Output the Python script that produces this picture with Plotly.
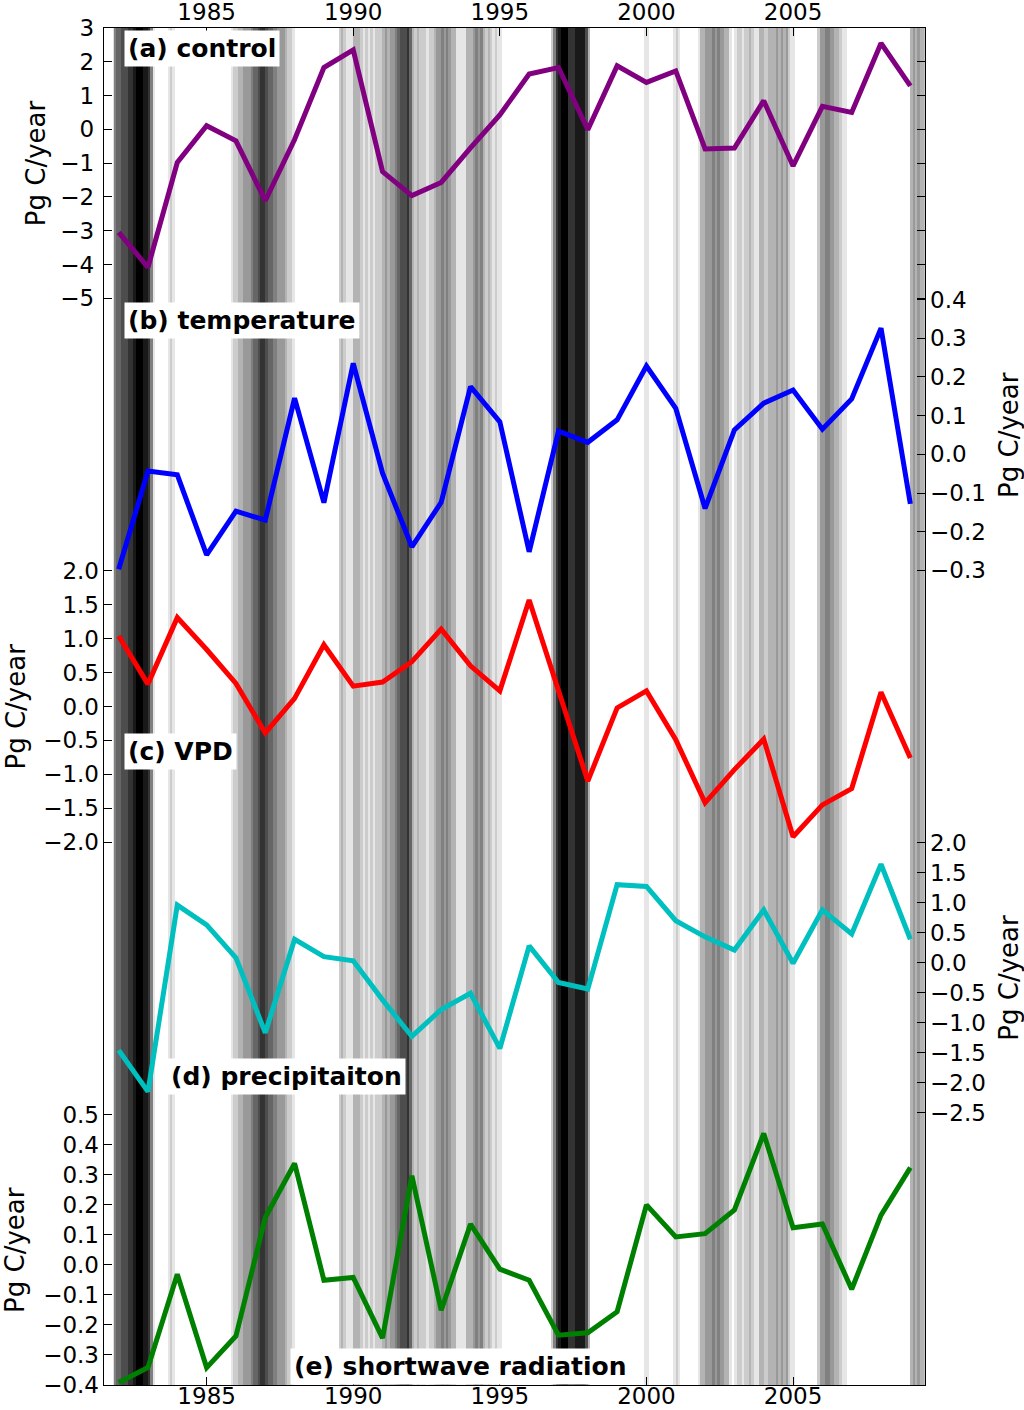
import numpy as np
import plotly.graph_objects as go

# ---------------- data ----------------
years = list(range(1982, 2010))

control = [-3.05, -4.08, -0.98, 0.11, -0.34, -2.11, -0.30, 1.83, 2.35, -1.25,
           -1.96, -1.57, -0.55, 0.43, 1.64, 1.83, -0.01, 1.88, 1.39, 1.73,
           -0.58, -0.55, 0.85, -1.08, 0.68, 0.50, 2.55, 1.29]

temperature = [-0.297, -0.043, -0.053, -0.260, -0.147, -0.170, 0.145, -0.125, 0.235, -0.049,
               -0.239, -0.124, 0.175, 0.084, -0.252, 0.060, 0.031, 0.089, 0.228, 0.119,
               -0.140, 0.063, 0.132, 0.166, 0.065, 0.143, 0.326, -0.128]

vpd = [1.04, 0.33, 1.31, 0.84, 0.34, -0.39, 0.12, 0.91, 0.30, 0.36,
       0.66, 1.14, 0.60, 0.23, 1.57, 0.22, -1.10, -0.02, 0.23, -0.49,
       -1.42, -0.93, -0.48, -1.92, -1.45, -1.21, 0.21, -0.76]

precipitation = [-1.46, -2.15, 0.96, 0.63, 0.08, -1.17, 0.39, 0.10, 0.03, -0.62,
                 -1.23, -0.78, -0.51, -1.43, 0.28, -0.33, -0.44, 1.30, 1.27, 0.70,
                 0.43, 0.21, 0.88, -0.01, 0.88, 0.48, 1.64, 0.39]

shortwave = [-0.392, -0.342, -0.031, -0.342, -0.237, 0.158, 0.338, -0.051, -0.042, -0.244,
             0.297, -0.151, 0.136, -0.014, -0.051, -0.234, -0.226, -0.156, 0.200, 0.093,
             0.104, 0.183, 0.438, 0.124, 0.136, -0.081, 0.166, 0.324]

# monthly background shading (0 = white, 10 = black), starting Nov 1981
shade_first_year = 1981
shade_first_month = 11
shade_monthly = (
    [5, 6] +
    [6, 7, 7, 7, 8, 8, 9, 10, 10, 10, 9, 9] +      # 1982
    [8, 5, 1, 0, 0, 0, 0, 0, 1, 2, 1, 0] +         # 1983
    [0] * 12 +                                     # 1984
    [0, 0, 0, 0, 0, 0, 0, 0, 0, 0, 1, 2] +         # 1985
    [2, 3, 3, 4, 4, 4, 5, 6, 6, 7, 8, 8] +         # 1986
    [7, 6, 6, 5, 5, 4, 4, 4, 3, 2, 2, 1] +         # 1987
    [0] * 12 +                                     # 1988
    [0, 0, 0, 0, 0, 0, 2, 3, 2, 1, 1, 1] +         # 1989
    [3, 3, 3, 2, 1, 2, 1, 2, 1, 2, 2, 2] +         # 1990
    [3, 4, 3, 4, 4, 5, 6, 7, 7, 7, 8, 6] +         # 1991
    [3, 2, 3, 2, 2, 2, 1, 2, 2, 3, 4, 4] +         # 1992
    [5, 4, 5, 4, 3, 3, 1, 1, 1, 1, 3, 3] +         # 1993
    [3, 4, 5, 4, 5, 3, 2, 3, 2, 1, 2, 1] +         # 1994
    [1, 0, 0, 0, 0, 0, 0, 0, 0, 0, 0, 0] +         # 1995
    [0, 0, 0, 0, 0, 0, 0, 0, 0, 2, 5, 8] +         # 1996
    [9, 10, 10, 10, 8, 8, 8, 9, 9, 9, 9, 7] +      # 1997
    [3, 0, 0, 0, 0, 0, 0, 0, 0, 0, 0, 0] +         # 1998
    [0, 0, 0, 0, 0, 0, 0, 0, 0, 0, 0, 1] +         # 1999
    [1, 0, 0, 0, 0, 0, 0, 0, 0, 0, 0, 1] +         # 2000
    [2, 1, 0, 0, 0, 0, 0, 0, 0, 1, 3, 3] +         # 2001
    [4, 4, 4, 5, 4, 5, 4, 4, 3, 3, 1, 0] +         # 2002
    [1, 2, 2, 1, 2, 2, 3, 2, 1, 1, 3, 3] +         # 2003
    [2, 2, 3, 3, 3, 4, 3, 4, 3, 4, 2, 1] +         # 2004
    [1, 0, 0, 0, 0, 0, 0, 0, 0, 0, 2, 4] +         # 2005
    [4, 5, 5, 4, 4, 3, 3, 2, 1, 1, 0, 0] +         # 2006
    [0] * 12 +                                     # 2007
    [0] * 12 +                                     # 2008
    [3, 4, 3, 4, 3, 3]                             # 2009
)

x_ticks = [1985, 1990, 1995, 2000, 2005]
ticks_a = [3, 2, 1, 0, -1, -2, -3, -4, -5]
ticks_b = [0.4, 0.3, 0.2, 0.1, 0.0, -0.1, -0.2, -0.3]
ticks_c = [2.0, 1.5, 1.0, 0.5, 0.0, -0.5, -1.0, -1.5, -2.0]
ticks_d = [2.0, 1.5, 1.0, 0.5, 0.0, -0.5, -1.0, -1.5, -2.0, -2.5]
ticks_e = [0.5, 0.4, 0.3, 0.2, 0.1, 0.0, -0.1, -0.2, -0.3, -0.4]

panel_labels = ["(a) control", "(b) temperature", "(c) VPD",
                "(d) precipitaiton", "(e) shortwave radiation"]
unit_label = "Pg C/year"

# ---------------- figure ----------------
def fmt(v, dec):
    s = f"{abs(v):.{dec}f}"
    return ("\u2212" + s) if v < 0 else s

FONT = "DejaVu Sans"
TICKFONT = dict(family=FONT, size=23, color="black")

W, H = 1024, 1410
PL, PR, PT, PB = 104, 925, 28, 1385
ML, MR, MT, MB = PL, W - PR, PT, H - PB
PW = PR - PL
PH = PB - PT
XR = [1981.5, 2009.5]

start = shade_first_year + (shade_first_month - 1) / 12.0
x_edges = start + np.arange(len(shade_monthly) + 1) / 12.0

fig = go.Figure()
fig.add_trace(go.Heatmap(
    z=[shade_monthly], x=x_edges, y=[-40, 5],
    colorscale=[[0, "#ffffff"], [1, "#000000"]], zmin=0, zmax=10,
    showscale=False, hoverinfo="skip", xaxis="x", yaxis="y"))

LW = 5
fig.add_trace(go.Scatter(x=years, y=control, mode="lines",
                         line=dict(color="#800080", width=LW), xaxis="x2", yaxis="y"))
fig.add_trace(go.Scatter(x=years, y=temperature, mode="lines",
                         line=dict(color="#0000ff", width=LW), yaxis="y2"))
fig.add_trace(go.Scatter(x=years, y=vpd, mode="lines",
                         line=dict(color="#ff0000", width=LW), yaxis="y3"))
fig.add_trace(go.Scatter(x=years, y=precipitation, mode="lines",
                         line=dict(color="#00bfbf", width=LW), yaxis="y4"))
fig.add_trace(go.Scatter(x=years, y=shortwave, mode="lines",
                         line=dict(color="#008000", width=LW), xaxis="x3", yaxis="y5"))

common_y = dict(showgrid=False, zeroline=False, ticks="inside", ticklen=8,
                tickwidth=1, tickcolor="black", tickfont=TICKFONT,
                automargin=False, ticklabelstandoff=4)

fig.update_layout(
    width=W, height=H, autosize=False,
    margin=dict(l=ML, r=MR, t=MT, b=MB, pad=0),
    paper_bgcolor="white", plot_bgcolor="white",
    showlegend=False,
    # frame + inward ticks on bottom/top
    xaxis=dict(range=XR, tickvals=x_ticks, showticklabels=False,
               showgrid=False, zeroline=False, ticks="inside", ticklen=8, tickcolor="black",
               showline=True, linecolor="black", linewidth=1.3, mirror="ticks",
               automargin=False),
    # top tick labels
    xaxis2=dict(range=XR, overlaying="x", side="top", anchor="y",
                tickvals=x_ticks, ticktext=[str(t) for t in x_ticks],
                showgrid=False, zeroline=False, ticks="", showline=False,
                tickfont=TICKFONT, automargin=False, ticklabelstandoff=2),
    # bottom tick labels (lifted slightly toward the frame)
    xaxis3=dict(range=XR, overlaying="x", side="bottom", anchor="free", position=5 / PH,
                tickvals=x_ticks, ticktext=[str(t) for t in x_ticks],
                showgrid=False, zeroline=False, ticks="", showline=False,
                tickfont=TICKFONT, automargin=False, ticklabelstandoff=0),
    yaxis=dict(range=[-37.15, 3.0], tickvals=ticks_a, ticktext=[fmt(v, 0) for v in ticks_a],
               side="left", showline=True, linecolor="black", linewidth=1.3,
               mirror="ticks", **common_y),
    yaxis2=dict(range=[-2.405, 1.1016], tickvals=ticks_b, ticktext=[fmt(v, 1) for v in ticks_b],
                side="right", overlaying="y", anchor="x", **common_y),
    yaxis3=dict(range=[-10.0, 10.0], tickvals=ticks_c, ticktext=[fmt(v, 1) for v in ticks_c],
                side="left", overlaying="y", anchor="x", **common_y),
    yaxis4=dict(range=[-7.04, 15.58], tickvals=ticks_d, ticktext=[fmt(v, 1) for v in ticks_d],
                side="right", overlaying="y", anchor="x", **common_y),
    yaxis5=dict(range=[-0.4, 4.12], tickvals=ticks_e, ticktext=[fmt(v, 1) for v in ticks_e],
                side="left", overlaying="y", anchor="x", **common_y),
)

def px_to_paper_x(px):
    return (px - PL) / PW

def py_to_paper_y(py):
    return (PB - py) / PH

# axis titles (one per series axis)
title_specs = [("y", -1.0, 36), ("y2", 0.05, 1009), ("y3", 0.0, 15),
               ("y4", -0.25, 1009), ("y5", 0.05, 15)]
for yref, yv, px in title_specs:
    fig.add_annotation(text=unit_label, xref="paper", yref=yref,
                       x=px_to_paper_x(px), y=yv, textangle=-90, showarrow=False,
                       xanchor="center", yanchor="middle",
                       font=dict(family=FONT, size=26, color="black"))

# panel labels with white boxes
label_pos = [(124, 48.5), (124, 321), (124, 751.5), (167, 1076.5), (290, 1366)]
for text, (lx, ly) in zip(panel_labels, label_pos):
    fig.add_annotation(text="<b>" + text + "</b>", xref="paper", yref="paper",
                       x=px_to_paper_x(lx), y=py_to_paper_y(ly),
                       xanchor="left", yanchor="middle", showarrow=False,
                       bgcolor="white", borderpad=3,
                       font=dict(family=FONT, size=25, color="black"))

fig.write_html("out.html",
               config={"displayModeBar": False},
               post_script="document.body.style.margin='0px';"
                           "document.documentElement.style.margin='0px';")
